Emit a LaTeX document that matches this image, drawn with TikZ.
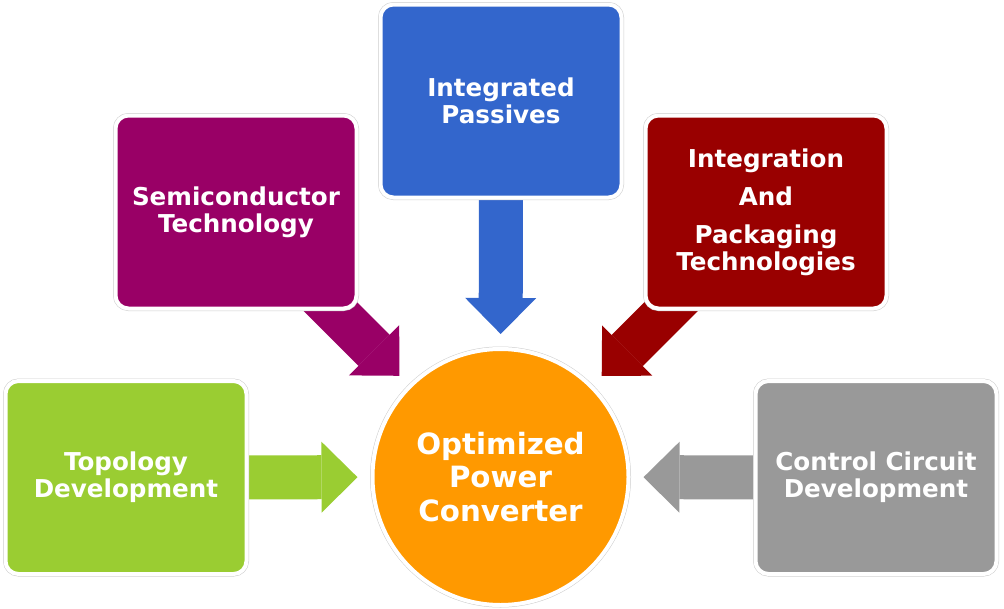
\documentclass[tikz,border=0pt]{standalone}
\usepackage{fontspec}
\setmainfont{DejaVu Sans}
\usetikzlibrary{arrows.meta,backgrounds}

\definecolor{topogreen}{HTML}{9ACD32}
\definecolor{passblue}{HTML}{3366CC}
\definecolor{semimag}{HTML}{990066}
\definecolor{packred}{HTML}{990000}
\definecolor{ctrlgray}{HTML}{999999}
\definecolor{convorange}{HTML}{FF9900}

\begin{document}
\begin{tikzpicture}[x=1pt,y=-1pt,
    box/.style={rounded corners=13pt,minimum width=241pt,minimum height=193pt,
        inner sep=0pt,align=center,text=white,fill=#1,
        font=\bfseries\fontsize{24.6}{27}\selectfont,
        draw=white,line width=4pt,preaction={draw=black!20,line width=5pt}},
    feed/.style={line width=44pt,shorten >=13pt,
        -{Triangle[length=36pt,width=71pt,line width=0pt]}}]
    \useasboundingbox (0,0) rectangle (1004,608);

    % Goal
    \node[circle,minimum size=256pt,inner sep=0pt,align=center,text=white,
        fill=convorange,draw=white,line width=4pt,
        preaction={draw=black!20,line width=5pt},
        font=\bfseries\fontsize{29.3}{33.5}\selectfont] (conv) at (500.5,477)
        {Optimized\\Power\\Converter};

    % Contributing areas
    \node[box=topogreen] (topo) at (126,477.5) {Topology\\Development};
    \node[box=semimag] (semi) at (236,212) {Semiconductor\\Technology};
    \node[box=passblue] (pass) at (501,101) {Integrated\\Passives};
    \node[box=packred] (pack) at (766,212)
        {Integration\\[11pt]And\\[11pt]Packaging\\Technologies};
    \node[box=ctrlgray] (ctrl) at (876,477.5) {Control Circuit\\Development};

    % Block arrows, behind the boxes
    \begin{pgfonlayer}{background}
        \draw[feed,topogreen] (topo.center) -- (conv);
        \draw[feed,semimag] (semi.center) -- (conv);
        \draw[feed,passblue] (pass.center) -- (conv);
        \draw[feed,packred] (pack.center) -- (conv);
        \draw[feed,ctrlgray] (ctrl.center) -- (conv);
    \end{pgfonlayer}
\end{tikzpicture}
\end{document}
